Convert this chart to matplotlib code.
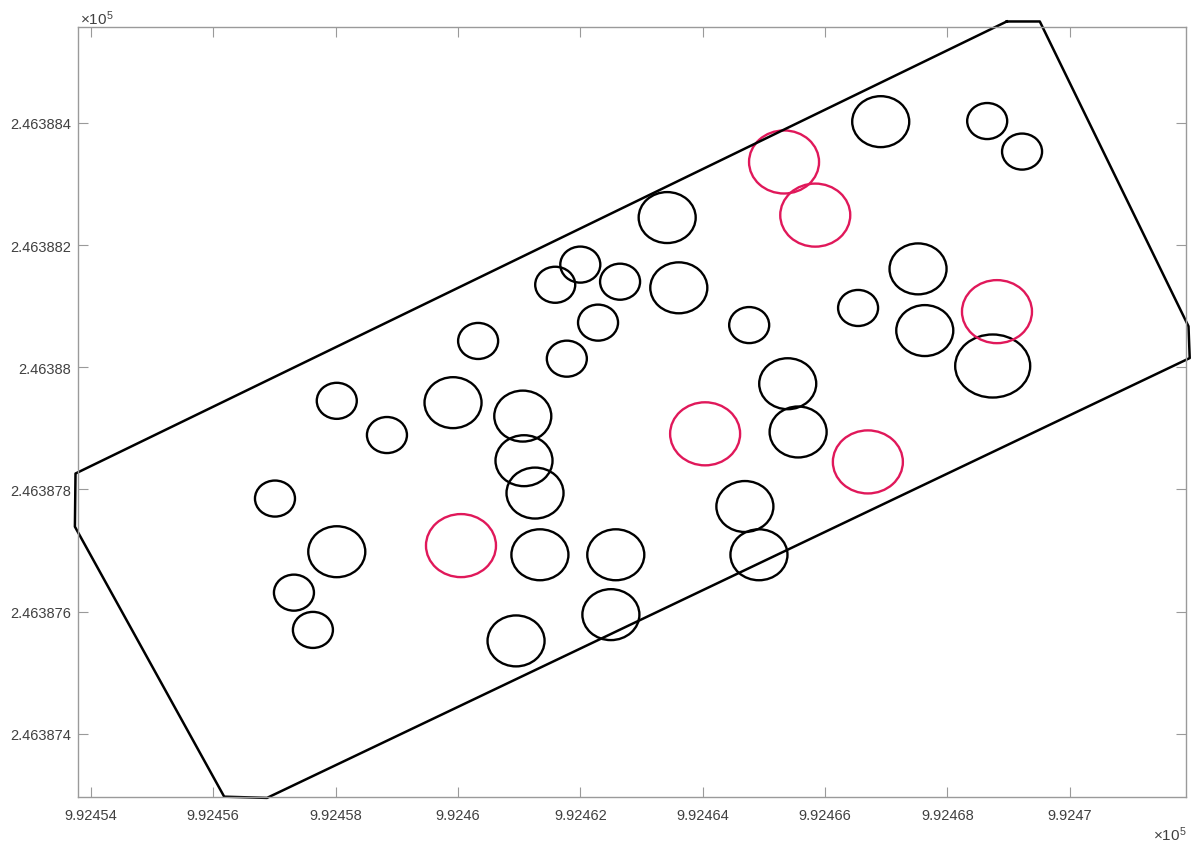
import matplotlib
matplotlib.use('Agg')
import matplotlib.pyplot as plt
from matplotlib.patches import Ellipse

plt.rcParams['font.family'] = ['Liberation Sans', 'DejaVu Sans']
plt.rcParams['mathtext.fontset'] = 'custom'
plt.rcParams['mathtext.rm'] = 'Liberation Sans'

# site boundary
bound_x = [992468.97, 992469.51, 992471.94, 992471.96, 992456.88,
           992456.18, 992453.74, 992453.75, 992468.97]
bound_y = [246388.566, 246388.566, 246388.067, 246388.015, 246387.295,
           246387.297, 246387.739, 246387.826, 246388.566]

# black circles: centre + size class
black_x = [992466.91, 992468.65, 992469.22, 992463.42, 992462.00, 992461.59,
           992462.65, 992463.61, 992467.52, 992466.54, 992464.76, 992462.29,
           992467.63, 992460.33, 992461.78, 992468.74, 992465.39, 992458.02,
           992459.92, 992461.06, 992458.84, 992465.56, 992461.08, 992461.26,
           992457.01, 992464.69, 992458.02, 992461.34, 992462.58, 992464.92,
           992457.32, 992462.50, 992457.63, 992460.95]
black_y = [246388.402, 246388.403, 246388.353, 246388.245, 246388.168, 246388.135,
           246388.140, 246388.130, 246388.161, 246388.097, 246388.069, 246388.073,
           246388.060, 246388.043, 246388.014, 246388.002, 246387.973, 246387.945,
           246387.942, 246387.920, 246387.889, 246387.894, 246387.847, 246387.794,
           246387.785, 246387.772, 246387.698, 246387.693, 246387.693, 246387.693,
           246387.631, 246387.595, 246387.570, 246387.552]
black_size = ['L', 'S', 'S', 'L', 'S', 'S',
              'S', 'L', 'L', 'S', 'S', 'S',
              'L', 'S', 'S', 'XL', 'L', 'S',
              'L', 'L', 'S', 'L', 'L', 'L',
              'S', 'L', 'L', 'L', 'L', 'L',
              'S', 'L', 'S', 'L']

# red circles
red_x = [992465.33, 992465.84, 992468.81, 992464.04, 992466.70, 992460.05]
red_y = [246388.336, 246388.249, 246388.091, 246387.891, 246387.845, 246387.708]

# radius per size class, in x units and y units
radius_x = {'S': 0.327, 'L': 0.466, 'XL': 0.613, 'R': 0.572}
radius_y = {'S': 0.0295, 'L': 0.0417, 'XL': 0.0516, 'R': 0.0516}

x_ticks = [992454, 992456, 992458, 992460, 992462, 992464, 992466, 992468, 992470]
x_labels = ['9.92454', '9.92456', '9.92458', '9.9246', '9.92462',
            '9.92464', '9.92466', '9.92468', '9.9247']
y_ticks = [246387.4, 246387.6, 246387.8, 246388.0, 246388.2, 246388.4]
y_labels = ['2.463874', '2.463876', '2.463878', '2.46388', '2.463882', '2.463884']

RED = '#e0185a'
GREY = '#404040'

fig = plt.figure(figsize=(11.92, 8.45), dpi=100)
ax = fig.add_axes([0.0654, 0.056, 0.9296, 0.9109])

ax.plot(bound_x, bound_y, color='k', lw=1.8, clip_on=False)

for x, y, s in zip(black_x, black_y, black_size):
    ax.add_patch(Ellipse((x, y), 2*radius_x[s], 2*radius_y[s], fill=False,
                         edgecolor='k', lw=1.7))
for x, y in zip(red_x, red_y):
    ax.add_patch(Ellipse((x, y), 2*radius_x['R'], 2*radius_y['R'], fill=False,
                         edgecolor=RED, lw=1.7))

ax.set_xlim(992453.79, 992471.90)
ax.set_ylim(246387.297, 246388.557)
ax.set_xticks(x_ticks)
ax.set_xticklabels(x_labels)
ax.set_yticks(y_ticks)
ax.set_yticklabels(y_labels)

for sp in ax.spines.values():
    sp.set_color('#9a9a9a')
    sp.set_linewidth(1.0)
ax.tick_params(direction='in', length=7, width=0.8, color='#9a9a9a',
               labelsize=10.5, labelcolor=GREY, top=True, right=True)
ax.tick_params(axis='x', pad=8)
ax.tick_params(axis='y', pad=5)

fig.text(80/1192, 1 - 25/845, r'$\times\mathregular{10^{5}}$', fontsize=11,
         color=GREY, ha='left', va='baseline')
fig.text(1186/1192, 1 - 841/845, r'$\times\mathregular{10^{5}}$', fontsize=11,
         color=GREY, ha='right', va='baseline')

fig.savefig('out.png', dpi=100)
